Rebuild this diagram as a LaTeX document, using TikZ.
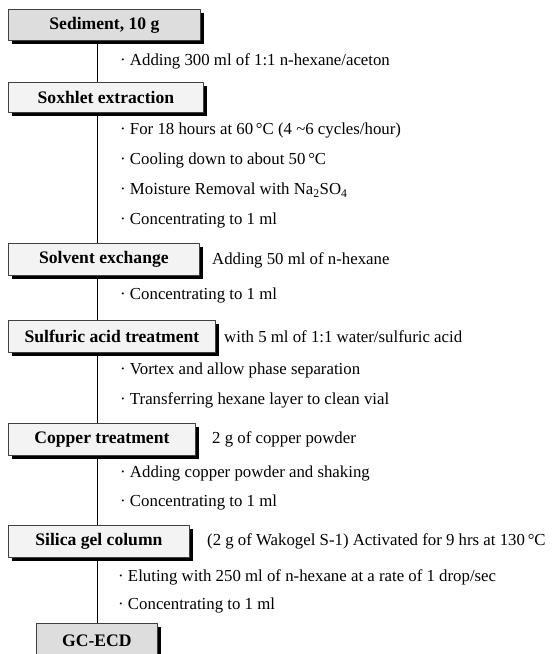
\documentclass[tikz,border=0pt]{standalone}
\usepackage{fontspec}
\setmainfont{Liberation Serif}
\usetikzlibrary{shadows}

\begin{document}
\begin{tikzpicture}[x=1pt,y=-1pt,line join=round,
  stepbox/.style={draw=black!75,line width=0.8pt,fill=boxlight,anchor=north west,
    inner sep=0pt,font=\fontsize{17.6}{20}\selectfont\bfseries,
    drop shadow={shadow xshift=3.5pt,shadow yshift=-3.5pt,fill=black,opacity=1}},
  note/.style={anchor=west,inner sep=0pt,font=\fontsize{16.8}{19}\selectfont}]

  \useasboundingbox (0,0) rectangle (553,654);

  \definecolor{boxgray}{RGB}{221,221,221}
  \definecolor{boxlight}{RGB}{243,243,243}

  % ---- steps ----
  \node[stepbox,fill=boxgray,minimum width=192,minimum height=31] (sed) at (8,9) {Sediment, 10 g};
  \node[stepbox,minimum width=195,minimum height=30] (sox) at (8,82) {Soxhlet extraction};
  \node[stepbox,minimum width=191,minimum height=32] (solv) at (8,243) {Solvent exchange};
  \node[stepbox,minimum width=207,minimum height=32] (sulf) at (8,320) {Sulfuric acid treatment};
  \node[stepbox,minimum width=187,minimum height=32] (cop) at (8,423) {Copper treatment};
  \node[stepbox,minimum width=181,minimum height=32] (sil) at (8,525) {Silica gel column};
  \node[stepbox,fill=boxgray,minimum width=121,minimum height=34] (gc) at (36,623) {GC-ECD};

  % ---- spine ----
  \coordinate (spine) at (97,0);
  \foreach \a/\b in {sed/sox,sox/solv,solv/sulf,sulf/cop,cop/sil,sil/gc}
    \draw[line width=0.9pt] (\a.south -| spine) -- (\b.north -| spine);

  % ---- notes under the steps ----
  \node[note] (n1) at (120,61) {· Adding 300 ml of 1:1 n-hexane/aceton};

  \node[note] (n2) at (120,130) {· For 18 hours at 60\,°C (4 \textasciitilde6 cycles/hour)};
  \node[note] (n3) at (120,160) {· Cooling down to about 50\,°C};
  \node[note] (n4) at (120,190) {· Moisture Removal with Na\textsubscript{2}SO\textsubscript{4}};
  \node[note] (n5) at (120,220) {· Concentrating to 1 ml};

  \node[note] (n6) at (120,295) {· Concentrating to 1 ml};

  \node[note] (n7) at (120,370) {· Vortex and allow phase separation};
  \node[note] (n8) at (120,400) {· Transferring hexane layer to clean vial};

  \node[note] (n9) at (120,473) {· Adding copper powder and shaking};
  \node[note] (n10) at (120,502) {· Concentrating to 1 ml};

  \node[note] (n11) at (118,577) {· Eluting with 250 ml of n-hexane at a rate of 1 drop/sec};
  \node[note] (n12) at (118,605) {· Concentrating to 1 ml};

  % ---- notes beside the steps ----
  \node[note] (s1) at (212,260) {Adding 50 ml of n-hexane};
  \node[note] (s2) at (224,337) {with 5 ml of 1:1 water/sulfuric acid};
  \node[note] (s3) at (212,439) {2 g of copper powder};
  \node[note] (s4) at (207,541) {(2 g of Wakogel S-1) Activated for 9 hrs at 130\,°C};

\end{tikzpicture}
\end{document}
